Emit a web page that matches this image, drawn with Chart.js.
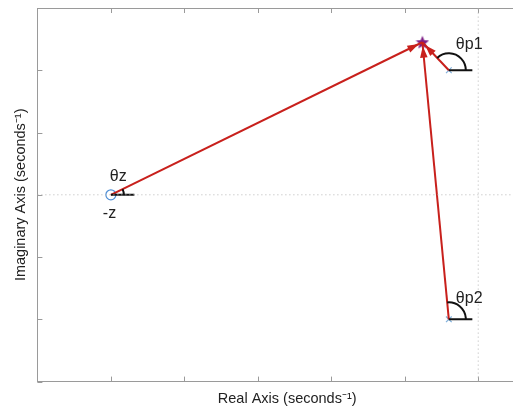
<!DOCTYPE html>
<html>
<head>
<meta charset="utf-8">
<script src="https://cdn.jsdelivr.net/npm/chart.js@4.4.1/dist/chart.umd.min.js"></script>
<style>
  html, body { margin: 0; padding: 0; background: #fff; overflow: hidden; }
  #wrap { width: 545px; height: 408px; }
</style>
</head>
<body>
<div id="wrap"><canvas id="plot" width="545" height="408"></canvas></div>
<script>
// pole-zero data (seconds^-1)
const zeros = [{ x: -5, y: 0 }];
const poles = [{ x: -0.4, y: 2 }, { x: -0.4, y: -2 }];
const testPoint = { x: -0.76, y: 2.45 };

const xRange = [-6, 0.8];
const yRange = [-3, 3];

// angle labels drawn at each vertex
const angleLabels = ['θz', 'θp1', 'θp2'];
const refLength = 0.32; // horizontal reference line for the angle

const vertices = [zeros[0], poles[0], poles[1]];

// a filled 5 point star for the test point
function makeStar(size) {
  const c = document.createElement('canvas');
  c.width = size; c.height = size;
  const g = c.getContext('2d');
  const cx = size / 2, cy = size / 2 + 0.5, ro = size / 2, ri = ro * 0.45;
  g.beginPath();
  for (let i = 0; i < 10; i++) {
    const r = i % 2 === 0 ? ro : ri;
    const a = -Math.PI / 2 + i * Math.PI / 5;
    g.lineTo(cx + r * Math.cos(a), cy + r * Math.sin(a));
  }
  g.closePath();
  g.fillStyle = '#7d1f86';
  g.fill();
  return c;
}

const arrowSets = vertices.map(v => ({
  label: 'arrow',
  data: [v, testPoint],
  showLine: true,
  borderColor: '#c8201c',
  borderWidth: 2,
  pointRadius: 0,
  isArrow: true
}));

const refSets = vertices.map(v => ({
  label: 'ref',
  data: [v, { x: v.x + refLength, y: v.y }],
  showLine: true,
  borderColor: '#111',
  borderWidth: 2,
  pointRadius: 0
}));

// draws the inward ticks, the top border, arrow heads, angle arcs and labels
const extras = {
  id: 'extras',
  beforeDatasetsDraw(chart) {
    const { ctx, chartArea } = chart;
    const xs = chart.scales.x, ys = chart.scales.y;
    ctx.save();
    ctx.strokeStyle = '#9a9a9a';
    ctx.lineWidth = 1;
    ctx.beginPath();
    ctx.moveTo(chartArea.left, chartArea.top + 0.5);
    ctx.lineTo(chartArea.right, chartArea.top + 0.5);
    xs.ticks.forEach(t => {
      const px = Math.round(xs.getPixelForValue(t.value)) + 0.5;
      ctx.moveTo(px, chartArea.bottom); ctx.lineTo(px, chartArea.bottom - 5);
      ctx.moveTo(px, chartArea.top); ctx.lineTo(px, chartArea.top + 5);
    });
    ys.ticks.forEach(t => {
      const py = Math.round(ys.getPixelForValue(t.value)) + 0.5;
      ctx.moveTo(chartArea.left, py); ctx.lineTo(chartArea.left + 5, py);
    });
    ctx.stroke();
    ctx.restore();
  },
  afterDatasetsDraw(chart) {
    const { ctx } = chart;
    const xs = chart.scales.x, ys = chart.scales.y;
    ctx.save();
    chart.data.datasets.forEach((ds, i) => {
      if (!ds.isArrow) return;
      const pts = chart.getDatasetMeta(i).data;
      const a = pts[0], b = pts[1];
      const ang = Math.atan2(b.y - a.y, b.x - a.x);
      const tip = { x: b.x - 4 * Math.cos(ang), y: b.y - 4 * Math.sin(ang) };
      ctx.fillStyle = '#c8201c';
      ctx.beginPath();
      ctx.moveTo(tip.x, tip.y);
      ctx.lineTo(tip.x - 12 * Math.cos(ang - 0.32), tip.y - 12 * Math.sin(ang - 0.32));
      ctx.lineTo(tip.x - 12 * Math.cos(ang + 0.32), tip.y - 12 * Math.sin(ang + 0.32));
      ctx.closePath();
      ctx.fill();
    });
    // angle arcs
    const sx = xs.getPixelForValue(testPoint.x), sy = ys.getPixelForValue(testPoint.y);
    ctx.strokeStyle = '#111';
    ctx.lineWidth = 2;
    vertices.forEach((v, i) => {
      const px = xs.getPixelForValue(v.x), py = ys.getPixelForValue(v.y);
      const ang = Math.atan2(sy - py, sx - px);
      const r = i === 0 ? 13 : 17;
      ctx.beginPath();
      ctx.arc(px, py, r, ang, 0);
      ctx.stroke();
    });
    // labels
    ctx.fillStyle = '#222';
    ctx.font = '16px "Liberation Sans", Arial, sans-serif';
    ctx.textBaseline = 'middle';
    const z = vertices[0], p1 = vertices[1], p2 = vertices[2];
    ctx.fillText(angleLabels[0], xs.getPixelForValue(z.x) - 1, ys.getPixelForValue(z.y) - 18);
    ctx.fillText('-z', xs.getPixelForValue(z.x) - 8, ys.getPixelForValue(z.y) + 19);
    ctx.fillText(angleLabels[1], xs.getPixelForValue(p1.x) + 7, ys.getPixelForValue(p1.y) - 26);
    ctx.fillText(angleLabels[2], xs.getPixelForValue(p2.x) + 7, ys.getPixelForValue(p2.y) - 21);
    ctx.restore();
  }
};

new Chart(document.getElementById('plot'), {
  type: 'scatter',
  data: {
    datasets: [
      {
        label: 'imag axis',
        data: [{ x: 0, y: yRange[0] }, { x: 0, y: yRange[1] }],
        showLine: true, borderColor: '#b5b5b5', borderWidth: 1, borderDash: [1, 3], pointRadius: 0
      },
      {
        label: 'real axis',
        data: [{ x: xRange[0], y: 0 }, { x: xRange[1], y: 0 }],
        showLine: true, borderColor: '#b5b5b5', borderWidth: 1, borderDash: [1, 3], pointRadius: 0
      },
      ...refSets,
      ...arrowSets,
      {
        label: 'zeros',
        data: zeros,
        pointStyle: 'circle', pointRadius: 5, borderColor: '#4f8fd6', borderWidth: 1.2,
        backgroundColor: 'rgba(0,0,0,0)'
      },
      {
        label: 'poles',
        data: poles,
        pointStyle: 'crossRot', pointRadius: 4, borderColor: '#7fb0dc', borderWidth: 1.2
      },
      {
        label: 'test point',
        data: [testPoint],
        pointStyle: makeStar(14), pointRadius: 7
      }
    ]
  },
  options: {
    responsive: false,
    animation: false,
    layout: { padding: { left: 3, right: 7, top: 8, bottom: 0 } },
    plugins: { legend: { display: false }, tooltip: { enabled: false } },
    scales: {
      x: {
        type: 'linear', min: xRange[0], max: xRange[1],
        ticks: { display: false, stepSize: 1 },
        grid: { display: false },
        border: { display: true, color: '#9a9a9a' },
        title: {
          display: true, text: 'Real Axis (seconds⁻¹)', color: '#222',
          font: { family: '"Liberation Sans", Arial, sans-serif', size: 14.5 },
          padding: { top: 1, bottom: 0 }
        }
      },
      y: {
        type: 'linear', min: yRange[0], max: yRange[1],
        ticks: { display: false, stepSize: 1 },
        grid: { display: false },
        border: { display: true, color: '#9a9a9a' },
        title: {
          display: true, text: 'Imaginary Axis (seconds⁻¹)', color: '#222',
          font: { family: '"Liberation Sans", Arial, sans-serif', size: 14.5 },
          padding: { top: 9, bottom: 0 }
        }
      }
    }
  },
  plugins: [extras]
});
</script>
</body>
</html>
